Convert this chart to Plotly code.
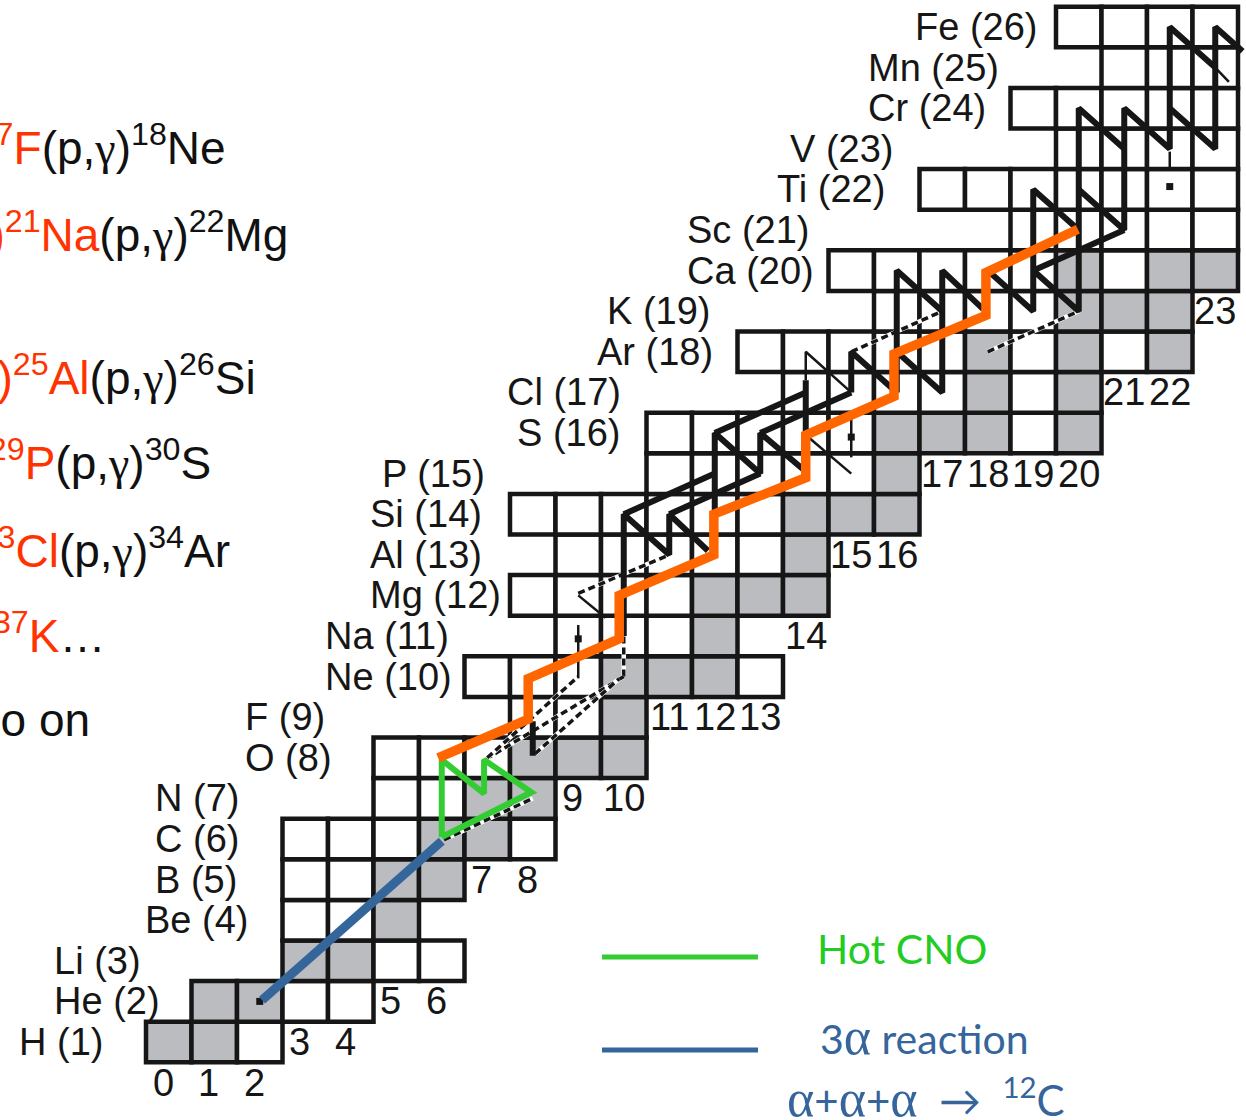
import plotly.graph_objects as go

# ---------------- data ----------------
elements = ["H", "He", "Li", "Be", "B", "C", "N", "O", "F", "Ne", "Na", "Mg", "Al",
            "Si", "P", "S", "Cl", "Ar", "K", "Ca", "Sc", "Ti", "V", "Cr", "Mn", "Fe"]
z_numbers = list(range(1, 27))
n_first = [0, 1, 3, 3, 3, 3, 5, 5, 8, 7, 9, 8, 9, 8, 11, 11, 14, 13, 16, 15, 19, 17, 20, 19, 21, 20]
n_last = [2, 4, 6, 5, 6, 8, 8, 10, 10, 13, 12, 14, 14, 16, 16, 20, 20, 22, 22, 23, 23, 23, 23, 23, 23, 23]
stable_cells = {1: [0, 1], 2: [1, 2], 3: [3, 4], 4: [5], 5: [5, 6], 6: [6, 7], 7: [7, 8],
                8: [8, 9, 10], 9: [10], 10: [10, 11, 12], 11: [12], 12: [12, 13, 14], 13: [14],
                14: [14, 15, 16], 15: [16], 16: [16, 17, 18, 20], 17: [18, 20],
                18: [18, 20, 22], 19: [20, 21, 22], 20: [20, 22, 23]}

# reaction flows, as (N, Z) vertices
three_alpha_N = [2.05, 6.0]
three_alpha_Z = [2.03, 5.95]
hot_cno_N = [6.0, 6.0, 6.93, 6.93, 7.97, 6.0]
hot_cno_Z = [6.05, 7.95, 7.12, 7.95, 7.15, 6.05]
alpha_p_N = [5.92, 7.9, 7.9, 9.9, 9.9, 11.98, 11.98, 14.0, 14.0, 15.94, 15.94, 17.96, 17.96, 19.98]
alpha_p_Z = [8.0, 8.95, 9.95, 10.93, 12.0, 13.0, 14.0, 14.9, 15.95, 16.9, 17.95, 18.9, 19.95, 21.02]

rp_thick = [
    [(10, 11.0), (10, 14), (11, 13), (11, 14), (11.85, 13.1)],
    [(10, 14), (12, 15)],
    [(11, 14), (13, 15)],
    [(12, 13.5), (12, 16), (13, 15), (13, 16), (14, 15.05)],
    [(12, 16), (14, 17)],
    [(13, 16), (15, 17)],
    [(14, 15), (14, 17.3)],
    [(15, 17), (15, 18), (16, 17)],
    [(16, 17), (16, 20), (17, 19)],
    [(16, 18), (17, 17), (17, 20), (17.9, 19.05)],
    [(18, 20), (19, 19), (19, 22), (20, 21)],
    [(19, 20), (20, 19), (20, 24), (21, 23)],
    [(19, 20), (21, 21)],
    [(20, 22), (21, 21), (21, 24), (22, 23), (22, 26), (23, 25)],
    [(22, 24), (23, 23), (23, 26), (23.6, 25.4)],
    [(8, 8.05), (8, 8.9)],
]
thin_flows = [
    [(9, 9.96), (9, 11.27)],
    [(9, 12), (9.6, 11.45)],
    [(14, 15.95), (15, 15.0)],
    [(15, 15.4), (15, 16.4)],
    [(14, 17.3), (14, 18), (15, 17)],
    [(23, 25), (23.3, 24.65)],
    [(22, 22.93), (22, 22.55)],
]
dot_N = [9, 15, 22, 2.0]
dot_Z = [10.93, 15.9, 22.07, 2.0]
dashed_flows = [
    [(10, 10.0), (10, 11.0)],
    [(10, 10.0), (7.05, 8.02)],
    [(8.05, 8.1), (9.9, 9.95)],
    [(7.0, 8.0), (9.0, 10.0)],
    [(6.05, 5.98), (8.0, 7.0)],
    [(9, 12.05), (11, 13)],
    [(15, 18), (17, 19)],
    [(18, 18), (20, 19)],
]

# ---------------- layout constants ----------------
W, H = 1246, 1120
X0, CW = 168.75, 45.5     # px of N=0 centre, px per N
Y0, CH = 1082.6, 40.6     # px of Z=0 centre, px per Z
x_range = [(0 - X0) / CW, (W - X0) / CW]
y_range = [(Y0 - H) / CH, Y0 / CH]

BLACK = "#161616"
GREY = "#BBBCC0"
fig = go.Figure()

# cells
shapes = []
for z, n0, n1 in zip(z_numbers, n_first, n_last):
    for n in range(n0, n1 + 1):
        fill = GREY if n in stable_cells.get(z, []) else "white"
        shapes.append(dict(type="rect", xref="x", yref="y", x0=n - 0.5, x1=n + 0.5,
                           y0=z - 0.5, y1=z + 0.5, fillcolor=fill,
                           line=dict(color=BLACK, width=4.5), layer="below"))

# legend sample lines
shapes.append(dict(type="line", xref="paper", yref="paper", x0=602 / W, x1=758 / W,
                   y0=1 - 957 / H, y1=1 - 957 / H, line=dict(color="#33CC33", width=5)))
shapes.append(dict(type="line", xref="paper", yref="paper", x0=602 / W, x1=758 / W,
                   y0=1 - 1050 / H, y1=1 - 1050 / H, line=dict(color="#35659A", width=5)))


def add_line(pts, color, width, dash=None):
    fig.add_trace(go.Scatter(x=[p[0] for p in pts], y=[p[1] for p in pts], mode="lines",
                             line=dict(color=color, width=width, dash=dash),
                             hoverinfo="skip", showlegend=False))


for pts in dashed_flows:
    add_line(pts, "white", 4.5)
    add_line(pts, BLACK, 3.5, "7px,4px")
for pts in thin_flows:
    add_line(pts, BLACK, 2.5)
for pts in rp_thick:
    add_line(pts, BLACK, 6)

fig.add_trace(go.Scatter(x=dot_N, y=dot_Z, mode="markers",
                         marker=dict(color=BLACK, size=7, symbol="square"),
                         hoverinfo="skip", showlegend=False))
fig.add_trace(go.Scatter(x=three_alpha_N, y=three_alpha_Z, mode="lines",
                         line=dict(color="#35669B", width=9), hoverinfo="skip", showlegend=False))
fig.add_trace(go.Scatter(x=hot_cno_N, y=hot_cno_Z, mode="lines",
                         line=dict(color="#33CC33", width=6), hoverinfo="skip", showlegend=False))
fig.add_trace(go.Scatter(x=alpha_p_N, y=alpha_p_Z, mode="lines",
                         line=dict(color="#FF6600", width=9.5), hoverinfo="skip", showlegend=False))

annotations = []
LBL_FONT = dict(family="Liberation Sans, Arial", size=38, color="#161616")

# element labels (left edge in px)
label_left_px = [17, 52, 52, 143, 153, 153, 153, 243, 243, 323, 323, 368, 368, 368, 380,
                 515, 505, 595, 605, 685, 685, 775, 788, 866, 866, 913]
for el, z, lx in zip(elements, z_numbers, label_left_px):
    annotations.append(dict(x=lx / W, xref="paper", y=z, yref="y", text=f"{el} ({z})",
                            showarrow=False, xanchor="left", yanchor="middle", font=LBL_FONT))

# neutron numbers under the lowest cell of each column
lowest = {}
for z, n0, n1 in zip(z_numbers, n_first, n_last):
    for n in range(n0, n1 + 1):
        lowest[n] = min(lowest.get(n, 99), z)
for n, zl in sorted(lowest.items()):
    annotations.append(dict(x=n - (0.12 if n < 10 else 0.0), y=zl - 1, xref="x", yref="y",
                            text=str(n), showarrow=False, xanchor="center",
                            yanchor="middle", font=LBL_FONT))

# reaction list on the left (cut at the page edge)
RED = "#FF3300"
G = '<span style="font-family:Liberation Serif">γ</span>'
A = '<span style="font-family:Liberation Serif">α</span>'
AL = '<span style="font-family:Liberation Serif;font-size:52px">α</span>'
reaction_lines = [
    (f'<span style="color:{RED}"><sup>14</sup>O({A},p)<sup>17</sup>F</span>(p,{G})<sup>18</sup>Ne', 228, 145),
    (f'<span style="color:{RED}"><sup>18</sup>Ne({A},p)<sup>21</sup>Na</span>(p,{G})<sup>22</sup>Mg', 290, 232),
    (f'<span style="color:{RED}"><sup>22</sup>Mg({A},p)<sup>25</sup>Al</span>(p,{G})<sup>26</sup>Si', 258, 375),
    (f'<span style="color:{RED}"><sup>26</sup>Si({A},p)<sup>29</sup>P</span>(p,{G})<sup>30</sup>S', 213, 460),
    (f'<span style="color:{RED}"><sup>30</sup>S({A},p)<sup>33</sup>Cl</span>(p,{G})<sup>34</sup>Ar', 232, 548),
    (f'<span style="color:{RED}"><sup>34</sup>Ar({A},p)<sup>37</sup>K</span>…', 107, 633),
    ('and so on', 92, 720),
]
for txt, rx, cy in reaction_lines:
    annotations.append(dict(x=rx / W, y=1 - cy / H, xref="paper", yref="paper", text=txt,
                            showarrow=False, xanchor="right", yanchor="middle",
                            font=dict(family="Liberation Sans, Arial", size=46, color="#111111")))

# legend texts
annotations.append(dict(x=815 / W, y=1 - 948 / H, xref="paper", yref="paper", text="Hot CNO",
                        showarrow=False, xanchor="left", yanchor="middle",
                        font=dict(family="Lato", size=41, color="#22CC22")))
annotations.append(dict(x=818 / W, y=1 - 1036 / H, xref="paper", yref="paper",
                        text=f"3{AL} reaction", showarrow=False, xanchor="left", yanchor="middle",
                        font=dict(family="Lato", size=41, color="#35659A")))
annotations.append(dict(x=785 / W, y=1 - 1098 / H, xref="paper", yref="paper",
                        text=f"{AL}+{AL}+{AL}  →  <sup>12</sup>C", showarrow=False, xanchor="left",
                        yanchor="middle", font=dict(family="Lato", size=42, color="#35659A")))

fig.update_layout(
    width=W, height=H, margin=dict(l=0, r=0, t=0, b=0),
    paper_bgcolor="white", plot_bgcolor="white",
    xaxis=dict(range=x_range, visible=False, fixedrange=True),
    yaxis=dict(range=y_range, visible=False, fixedrange=True),
    shapes=shapes, annotations=annotations, showlegend=False,
)
fig.write_html("out.html", config={"displayModeBar": False},
               post_script="document.body.style.margin='0px';document.body.style.overflow='hidden';")
